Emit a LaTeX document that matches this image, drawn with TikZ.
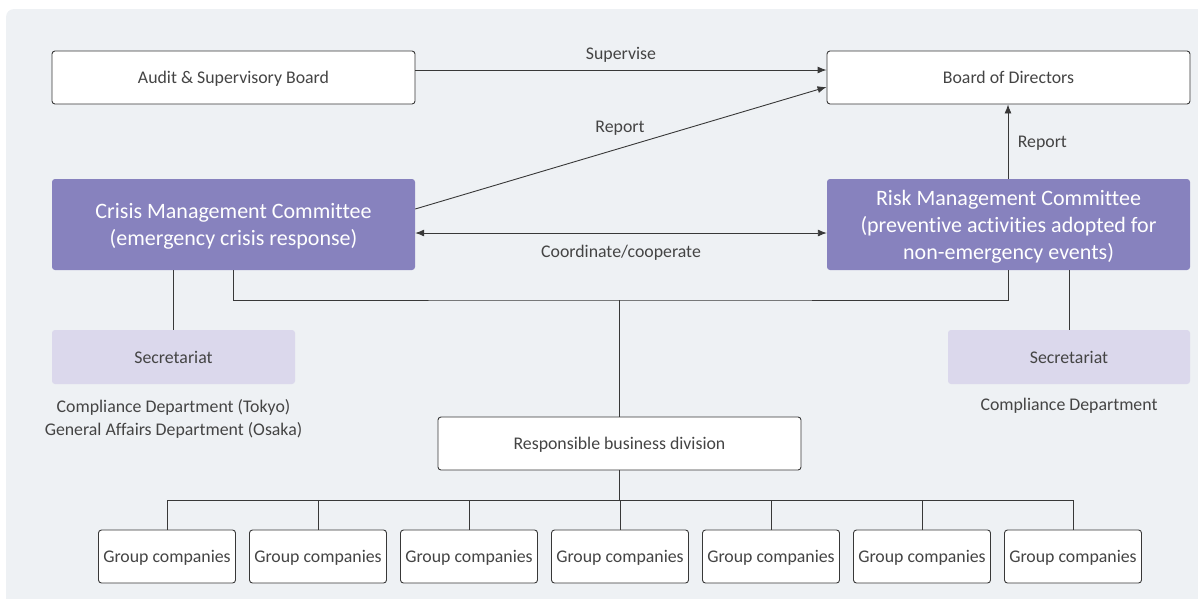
\documentclass[tikz,border=0pt]{standalone}
\usepackage{fontspec}
\setmainfont{Carlito}[Ligatures=NoCommon]
\usepackage{xcolor}
\usetikzlibrary{arrows.meta,calc}
\definecolor{cBack}{HTML}{EEF1F4}
\definecolor{cPurple}{HTML}{8782BE}
\definecolor{cLilac}{HTML}{DBD8EC}
\definecolor{cText}{HTML}{444444}
\definecolor{cLine}{HTML}{383838}
\tikzstyle{tsText} = [
    text=cText,
    font=\fontsize{17.8}{20}\selectfont
]
\tikzstyle{tsBox} = [
    rectangle,
    tsText,
    rounded corners=3pt,
    draw=cLine,
    line width=0.9pt,
    fill=white,
    inner sep=0pt,
    text depth=0pt,
    align=center]
\tikzstyle{tsCommittee} = [
    rectangle,
    rounded corners=3pt,
    fill=cPurple,
    text=white,
    font=\fontsize{22}{27}\selectfont,
    inner sep=0pt,
    text depth=0pt,
    align=center,
    minimum width=363pt,
    minimum height=91pt]
\tikzstyle{tsSecretariat} = [
    rectangle,
    tsText,
    rounded corners=3pt,
    fill=cLilac,
    inner sep=0pt,
    text depth=0pt,
    minimum height=54pt]
\tikzstyle{tsLink} = [
    draw=cLine,
    line width=0.9pt]
\tikzstyle{tsArrow} = [
    tsLink,
    -{Latex[length=9pt,width=7pt]}]

\begin{document}
\begin{tikzpicture}[x=1pt, y=-1pt]

        \useasboundingbox (0,0) rectangle (1198,598);
        \fill[cBack, rounded corners=8pt] (6,9) rectangle (1215,615);

        % top row
        \node[tsBox, minimum width=363pt, minimum height=53pt] (audit) at (233.5,77.5) {Audit \& Supervisory Board};
        \node[tsBox, minimum width=363pt, minimum height=53pt] (board) at (1008.5,77.5) {Board of Directors};

        % committees
        \node[tsCommittee] (crisis) at (233.5,224.5) {Crisis Management Committee\\(emergency crisis response)};
        \node[tsCommittee] (risk) at (1008.5,224.5) {Risk Management Committee\\(preventive activities adopted for\\non-emergency events)};

        % secretariats
        \node[tsSecretariat, minimum width=243pt] (secCrisis) at (173.5,357) {Secretariat};
        \node[tsSecretariat, minimum width=242pt] (secRisk) at (1069,357) {Secretariat};
        \node[tsText, align=center, font=\fontsize{17.8}{23}\selectfont] (deptCrisis) at (173.5,418.5) {Compliance Department (Tokyo)\\General Affairs Department (Osaka)};
        \node[tsText] (deptRisk) at (1069,406) {Compliance Department};

        % division and group companies
        \node[tsBox, minimum width=363pt, minimum height=53pt] (division) at (619.5,443.5) {Responsible business division};
        \foreach \i in {1,...,7}
            \node[tsBox, minimum width=137pt, minimum height=53pt] (group\i) at ({167+151*(\i-1)},556.5) {Group companies};

        \coordinate (junction) at (619.5,300);
        \coordinate (groupBus) at (619.5,500);

        % arrows
        \draw[tsArrow] ([yshift=7.5pt]audit.east) -- node[tsText, above=4pt] (lblSupervise) {Supervise} ([yshift=7.5pt]board.west);
        \draw[tsArrow] ([yshift=15.5pt]crisis.east) -- ([yshift=-9.5pt]board.west);
        \node[tsText] (lblReport) at (620,128) {Report};
        \draw[tsArrow, {Latex[length=9pt,width=7pt]}-{Latex[length=9pt,width=7pt]}] ([yshift=-8.5pt]crisis.east) -- node[tsText, below=8pt] (lblCoordinate) {Coordinate/cooperate} ([yshift=-8.5pt]risk.west);
        \draw[tsArrow] ([xshift=-0.5pt]risk.north) -- node[tsText, right=6pt, yshift=-2pt] (lblReportRisk) {Report} ([xshift=-0.5pt]board.south);

        % lines
        \draw[tsLink] (crisis.south) |- (junction) -| ([xshift=-0.5pt]risk.south);
        \draw[tsLink] (junction) -- (division.north);
        \draw[tsLink] (secCrisis.north) -- (secCrisis.north |- crisis.south);
        \draw[tsLink] (secRisk.north) -- (secRisk.north |- risk.south);
        \draw[tsLink] (division.south) -- (groupBus);
        \draw[tsLink] (group1.north |- groupBus) -- (group7.north |- groupBus);
        \foreach \i in {1,...,7}
            \draw[tsLink] (group\i.north) -- (group\i.north |- groupBus);

\end{tikzpicture}
\end{document}
